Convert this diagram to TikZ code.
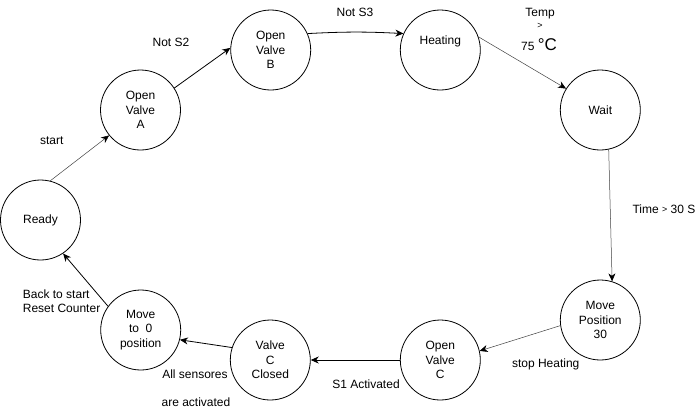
\documentclass[tikz,border=0pt]{standalone}
\usepackage{fontspec}
\setmainfont{Liberation Sans}
\usetikzlibrary{arrows.meta}
\newcommand{\smallgt}{\raisebox{0.8pt}{\fontsize{9}{9}\selectfont >}}
\begin{document}
\begin{tikzpicture}[x=1pt,y=-1pt,
  txt/.style={font=\fontsize{12}{14.4}\selectfont},
  state/.style={txt,circle,draw,line width=0.8pt,minimum size=80pt,inner sep=0pt,align=center},
  lbl/.style={txt,inner sep=0pt,align=center},
  edge/.style={line width=0.8pt,-{Stealth[length=8pt,width=7pt,inset=2.5pt,color=black]}},
  thinedge/.style={edge,line width=0.5pt,draw=black!75},
]
\useasboundingbox (0,0) rectangle (698,408);

% states
\node[state] (ready) at (40.5,220)  {Ready};
\node[state] (ova)   at (140.5,110) {Open\\Valve\\A};
\node[state] (ovb)   at (270.7,50)  {Open\\Valve\\B};
\node[state] (heat)  at (440.3,50)  {};
\node[lbl]   (heatT) at (440.3,41)  {Heating};
\node[state] (wait)  at (600.3,110) {Wait};
\node[state] (mp)    at (600.3,320) {Move\\Position\\30};
\node[state] (ovc)   at (440.3,360) {Open\\Valve\\C};
\node[state] (vcc)   at (270.3,360) {Valve\\C\\Closed};
\node[state] (mz)    at (140.7,330) {Move\\to~~0\\position};

% transitions
\draw[thinedge] (ready.76) -- (ova.219);
\draw[edge] (ova.33) -- (ovb.177);
\draw[edge] (ovb.24) to[bend left=3] (heat.156);
\draw[thinedge] (heat.19) -- (wait.148);
\draw[thinedge] (wait.282) -- (mp.73);
\draw[thinedge] (mp.188) -- (ovc.13);
\draw[edge] (ovc.180) -- (vcc.0);
\draw[edge] (vcc.162) -- (mz.346);
\draw[edge] (mz.144) -- (ready.304);

% transition conditions
\node[lbl] (lstart) at (51.7,141) {start};
\node[lbl] (lns2)   at (171,42)   {Not S2};
\node[lbl] (lns3)   at (355,12)   {Not S3};
\node[lbl] (ltemp1) at (540,14)   {Temp};
\node[lbl] (ltemp2) at (540,26.5) {\smallgt};
\node[lbl] (ltemp3) at (539,44.5) {75 {\fontsize{17}{17}\selectfont °C}};
\node[lbl] (ltime)  at (664,209)  {Time \smallgt{} 30 S};
\node[lbl] (lstop)  at (545.7,364) {stop Heating};
\node[lbl] (ls1)    at (366,384)  {S1 Activated};
\node[lbl] (lall1)  at (195,374)  {All sensores};
\node[lbl] (lall2)  at (196,402)  {are activated};
\node[lbl,align=left,anchor=west] (lback) at (22.7,301) {Back to start\\Reset Counter};
\end{tikzpicture}
\end{document}
